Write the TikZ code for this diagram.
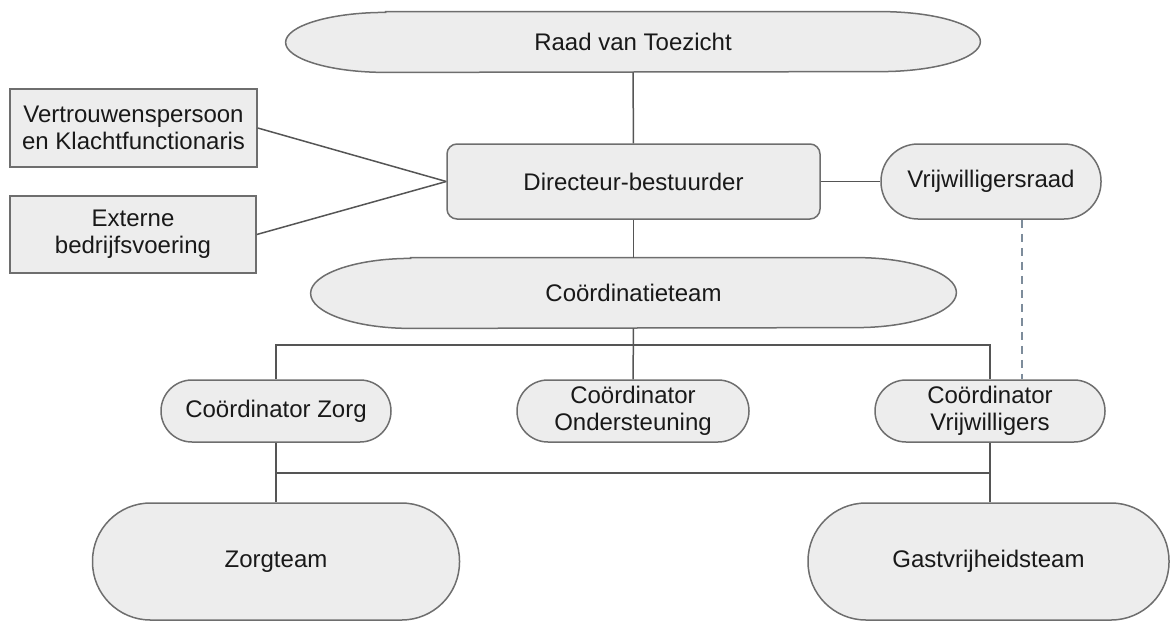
\documentclass[tikz,border=0pt]{standalone}
\usepackage{fontspec}
\setmainfont{Liberation Sans}
\usepackage{tikz}
\usetikzlibrary{positioning, backgrounds}
\definecolor{boxfill}{RGB}{237,237,237}
\definecolor{boxdraw}{RGB}{110,110,110}
\definecolor{linkgray}{RGB}{85,85,85}
\definecolor{dashgray}{RGB}{125,140,155}
\definecolor{textdark}{RGB}{25,25,25}
\tikzset{base/.style={text=textdark, font=\fontsize{12}{13.5}\selectfont, align=center, inner sep=0pt},
         plainbox/.style={base, rectangle, draw=boxdraw, fill=boxfill, line width=0.75pt},
         roundbox/.style={plainbox, rounded corners=5pt},
         pillbox/.style={plainbox, rounded corners=#1},
         ovalbox/.style={base, rectangle},
         ovalline/.style={draw=boxdraw, fill=boxfill, line width=0.75pt},
         link/.style={draw=linkgray, line width=0.75pt},
         dashlink/.style={draw=dashgray, line width=0.75pt, dash pattern=on 4pt off 3pt}}
% oval with flat top and elliptic ends round a named node
\newcommand{\ovalbar}[3]{%
  \draw[ovalline] ([xshift=#2]#1.north west) -- ([xshift=-#2]#1.north east)
    arc[start angle=90, end angle=-90, x radius=#2, y radius=#3]
    -- ([xshift=#2]#1.south west)
    arc[start angle=270, end angle=90, x radius=#2, y radius=#3] -- cycle;}

\begin{document}
\begin{tikzpicture}[x=0.5pt, y=-0.5pt]
        \useasboundingbox (0,0) rectangle (1170,621);

        \node (raad)[ovalbox, minimum width=347pt, minimum height=30pt] at (633,42) {Raad van Toezicht};
        \node (vertr)[plainbox, minimum width=123.5pt, minimum height=39pt] at (133.5,128) {Vertrouwenspersoon\\en Klachtfunctionaris};
        \node (extern)[plainbox, minimum width=123pt, minimum height=38.5pt] at (133,234.5) {Externe\\bedrijfsvoering};
        \node (dir)[roundbox, minimum width=186.5pt, minimum height=37.5pt] at (633.5,181.5) {Directeur-bestuurder};
        \node (vrad)[pillbox=18.5pt, minimum width=110pt, minimum height=37.5pt] at (991,181.5) {Vrijwilligersraad};
        \node (coteam)[ovalbox, minimum width=322.5pt, minimum height=35pt] at (633.5,293) {Coördinatieteam};

        \node (czorg)[pillbox=15.5pt, minimum width=115pt, minimum height=31pt] at (276,411) {Coördinator Zorg};
        \node (cond)[pillbox=15.5pt, minimum width=116pt, minimum height=31pt] at (633,411) {Coördinator\\Ondersteuning};
        \node (cvrij)[pillbox=15.5pt, minimum width=115pt, minimum height=31pt] at (990,411) {Coördinator\\Vrijwilligers};

        \node (zteam)[pillbox=29pt, minimum width=183.5pt, minimum height=58.5pt] at (276,561.5) {Zorgteam};
        \node (gteam)[pillbox=29pt, minimum width=180.5pt, minimum height=58.5pt] at (988.5,561.5) {Gastvrijheidsteam};

        \begin{pgfonlayer}{background}
            \ovalbar{raad}{50pt}{15pt}
            \ovalbar{coteam}{50pt}{17.5pt}
        \end{pgfonlayer}

        \coordinate (bar1) at (633,345);
        \coordinate (bar2) at (633,473);

        \draw [link] (raad) -- (dir);
        \draw [link] (vertr.east) -- (dir.west);
        \draw [link] (extern.east) -- (dir.west);
        \draw [link] (dir) -- (vrad);
        \draw [link] (dir) -- (coteam);
        \draw [dashlink] ([xshift=15.5pt]vrad.south) -- ([xshift=15.5pt]vrad.south |- cvrij.north);

        \draw [link] (coteam) -- (cond);
        \draw [link] (czorg) |- (bar1) -| (cvrij);

        \draw [link] (czorg) -- (zteam);
        \draw [link] (cvrij) -- (cvrij |- gteam.north);
        \draw [link] (czorg |- bar2) -- (cvrij |- bar2);
    \end{tikzpicture}
\end{document}
